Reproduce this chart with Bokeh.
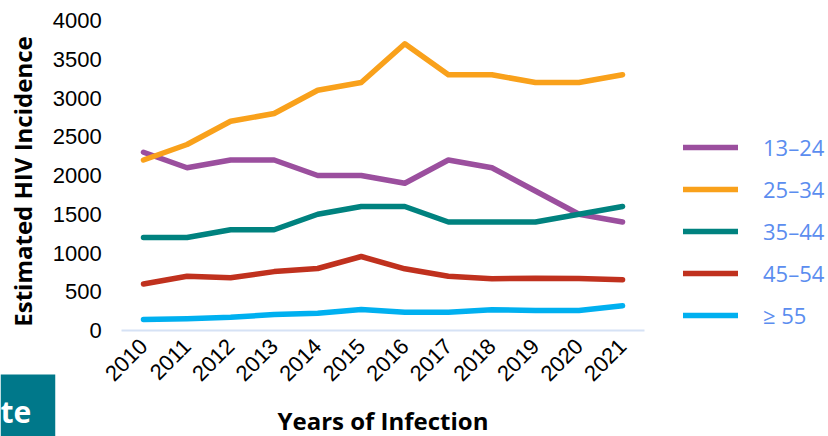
import math
from bokeh.plotting import figure
from bokeh.models import Legend, LegendItem, Label, Range1d, FixedTicker
from bokeh.embed import file_html
from bokeh.resources import INLINE

years = ["2010", "2011", "2012", "2013", "2014", "2015", "2016", "2017", "2018", "2019", "2020", "2021"]
age_13_24 = [2300, 2100, 2200, 2200, 2000, 2000, 1900, 2200, 2100, 1800, 1500, 1400]
age_25_34 = [2200, 2400, 2700, 2800, 3100, 3200, 3700, 3300, 3300, 3200, 3200, 3300]
age_35_44 = [1200, 1200, 1300, 1300, 1500, 1600, 1600, 1400, 1400, 1400, 1500, 1600]
age_45_54 = [600, 700, 680, 760, 800, 955, 796, 700, 667, 675, 670, 655]
age_55_up = [142, 151, 172, 206, 224, 271, 237, 237, 267, 258, 258, 318]
series_names = ["13\u201324", "25\u201334", "35\u201344", "45\u201354", "\u2265 55"]
series_colors = ["#9B4F9E", "#F9A11B", "#00827F", "#C0311E", "#00B0F0"]
y_ticks = [0, 500, 1000, 1500, 2000, 2500, 3000, 3500, 4000]

xs = [int(y) for y in years]

# layout: plot area spans the full canvas; axes are drawn at fixed locations inside it
W, H = 828, 436
px_per_year = 43.55
px_per_unit = 310 / 4000.0
x_start = xs[0] - 143 / px_per_year
x_end = x_start + W / px_per_year
y_start = -(H - 330) / px_per_unit
y_end = 4000 + 20 / px_per_unit

p = figure(width=W, height=H, output_backend="svg", toolbar_location=None,
           x_range=Range1d(x_start, x_end), y_range=Range1d(y_start, y_end),
           min_border=0, min_border_left=0, min_border_right=0,
           min_border_top=0, min_border_bottom=0)
p.outline_line_color = None
p.grid.grid_line_color = None
p.background_fill_color = "white"
p.border_fill_color = "white"

renderers = []
for vals, c in zip([age_13_24, age_25_34, age_35_44, age_45_54, age_55_up], series_colors):
    r = p.line(xs, vals, line_color=c, line_width=5.5, line_cap="round", line_join="round")
    renderers.append(r)

# y axis
p.yaxis.fixed_location = xs[0] - 0.5
p.yaxis.bounds = (-150, y_ticks[-1])
p.yaxis.ticker = FixedTicker(ticks=y_ticks)
p.yaxis.axis_line_color = None
p.yaxis.major_tick_line_color = None
p.yaxis.minor_tick_line_color = None
p.yaxis.major_tick_out = 0
p.yaxis.major_tick_in = 0
p.yaxis.major_label_standoff = 20
p.yaxis.major_label_text_font = "Liberation Sans"
p.yaxis.major_label_text_font_size = "22px"
p.yaxis.major_label_text_color = "black"
p.yaxis.axis_label = "Estimated HIV Incidence"
p.yaxis.axis_label_text_font = "Open Sans"
p.yaxis.axis_label_text_font_style = "bold"
p.yaxis.axis_label_text_font_size = "24px"
p.yaxis.axis_label_text_color = "black"
p.yaxis.axis_label_standoff = 11

# x axis
p.xaxis.fixed_location = 0
p.xaxis.bounds = (xs[0] - 0.5, xs[-1] + 0.5)
p.xaxis.ticker = FixedTicker(ticks=xs)
p.xaxis.axis_line_color = "#D6E2F5"
p.xaxis.axis_line_width = 2
p.xaxis.major_tick_line_color = None
p.xaxis.minor_tick_line_color = None
p.xaxis.major_tick_out = 0
p.xaxis.major_tick_in = 0
p.xaxis.major_label_overrides = {x: y for x, y in zip(xs, years)}
p.xaxis.major_label_orientation = math.pi / 4
p.xaxis.major_label_standoff = 12
p.xaxis.major_label_text_font = "Liberation Sans"
p.xaxis.major_label_text_font_size = "22px"
p.xaxis.major_label_text_color = "black"
p.xaxis.axis_label = "Years of Infection"
p.xaxis.axis_label_text_font = "Open Sans"
p.xaxis.axis_label_text_font_style = "bold"
p.xaxis.axis_label_text_font_size = "24px"
p.xaxis.axis_label_text_color = "black"
p.xaxis.axis_label_standoff = 13

legend = Legend(items=[LegendItem(label=n, renderers=[r]) for n, r in zip(series_names, renderers)],
                location=(683, 106), orientation="vertical",
                glyph_width=55, glyph_height=30, label_height=30, spacing=12,
                label_standoff=25, padding=0, margin=0,
                border_line_color=None, background_fill_alpha=0,
                label_text_font="Open Sans", label_text_font_size="22px",
                label_text_color="#5B8DEF")
p.add_layout(legend, "center")

box = Label(x=0, y=-7, x_units="screen", y_units="screen", text="te",
            text_font="Open Sans", text_font_style="bold", text_font_size="30px",
            text_color="white", background_fill_color="#00788A",
            padding=dict(left=0, right=24, top=16, bottom=12))
p.add_layout(box)

open("out.html", "w").write(file_html(p, INLINE))
